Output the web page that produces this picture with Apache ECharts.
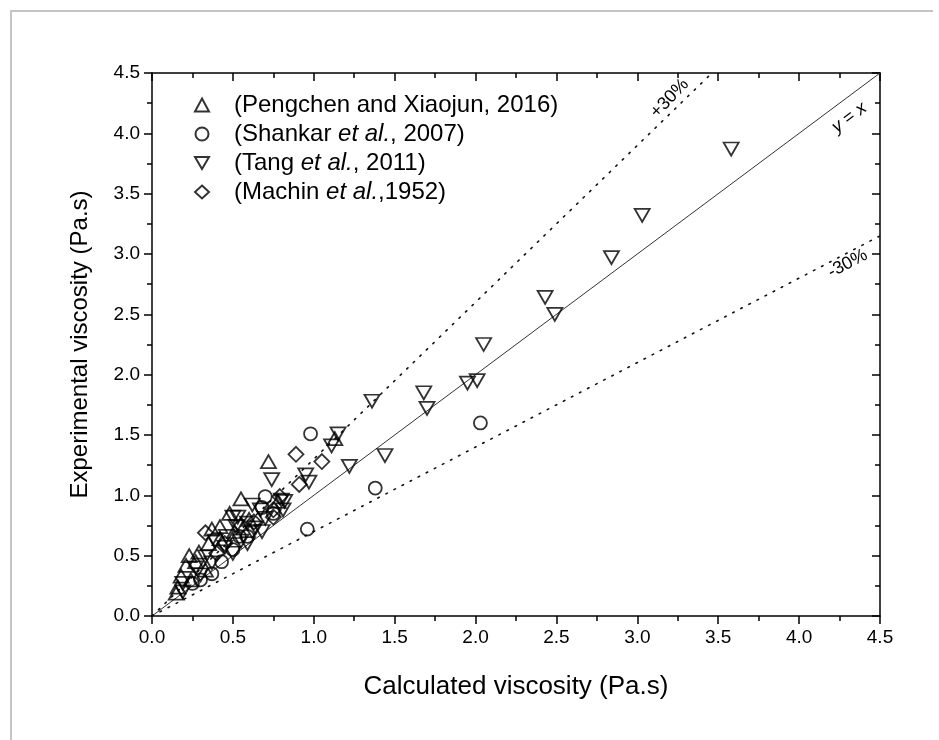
<!DOCTYPE html>
<html><head><meta charset="utf-8">
<script src="https://cdn.jsdelivr.net/npm/echarts@6/dist/echarts.min.js"></script>
<style>html,body{margin:0;padding:0;background:#fff}#c{width:939px;height:740px}</style>
</head><body><div id="c"></div>
<script>
// [calculated, experimental] pairs (Pa.s)
const pengchen = [[0.72,1.28],[1.13,1.47],[0.55,0.97],[0.48,0.85],[0.42,0.74],[0.37,0.72],[0.29,0.53],[0.23,0.50],[0.21,0.42],[0.18,0.33],[0.16,0.24],[0.15,0.19],[0.35,0.60],[0.27,0.45],[0.42,0.64],[0.60,0.80],[0.78,0.95],[0.33,0.38],[0.24,0.30],[0.51,0.70]];
const shankar = [[0.98,1.51],[2.03,1.60],[1.38,1.06],[0.96,0.72],[0.70,0.99],[0.68,0.90],[0.59,0.66],[0.54,0.66],[0.43,0.45],[0.37,0.35],[0.25,0.27],[0.75,0.85],[0.50,0.55],[0.30,0.30]];
const tang = [[3.58,3.87],[3.03,3.32],[2.84,2.97],[2.43,2.64],[2.49,2.50],[2.05,2.25],[1.95,1.93],[2.01,1.95],[1.68,1.85],[1.70,1.72],[1.36,1.78],[1.15,1.51],[1.11,1.41],[1.44,1.33],[1.22,1.24],[0.95,1.17],[0.97,1.11],[0.74,1.13],[0.82,0.95],[0.81,0.88],[0.80,0.96],[0.67,0.88],[0.62,0.92],[0.53,0.82],[0.50,0.82],[0.70,0.81],[0.59,0.77],[0.64,0.73],[0.68,0.70],[0.52,0.74],[0.46,0.66],[0.59,0.60],[0.39,0.62],[0.45,0.57],[0.50,0.52],[0.33,0.49],[0.37,0.44],[0.27,0.40],[0.30,0.34],[0.19,0.27],[0.19,0.20],[0.62,0.70],[0.55,0.62]];
const machin = [[0.89,1.34],[1.05,1.28],[0.91,1.09],[0.79,0.99],[0.75,0.88],[0.75,0.82],[0.63,0.78],[0.33,0.69],[0.45,0.60],[0.40,0.52],[0.55,0.75]];
const seriesNames = ['(Pengchen and Xiaojun, 2016)','(Shankar et al., 2007)','(Tang et al., 2011)','(Machin et al.,1952)'];
const lineYX = [[0,0],[4.5,4.5]];
const linePlus30 = [[0,0],[3.4615,4.5]];
const lineMinus30 = [[0,0],[4.5,3.15]];
const xTicks = {min:0, max:4.5, interval:0.5};
const yTicks = {min:0, max:4.5, interval:0.5};

const FONT = '"Liberation Sans", Arial, sans-serif';
const chart = echarts.init(document.getElementById('c'), null, {renderer:'canvas'});
const markerStyle = {color:'rgba(0,0,0,0)', borderColor:'#000', borderWidth:1.8};
const axisCommon = (pos, showLabel, inside) => ({
  type:'value', position:pos, min:xTicks.min, max:xTicks.max, interval:xTicks.interval,
  axisLine:{show:true, onZero:false, lineStyle:{color:'#000', width:1.5}},
  axisTick:{show:true, inside:inside, length:8, lineStyle:{color:'#000', width:1.5}},
  minorTick:{show:true, splitNumber:2, length:5, lineStyle:{color:'#000', width:1.5}},
  splitLine:{show:false},
  axisLabel:{show:showLabel, fontFamily:FONT, fontSize:19, color:'#000', margin:12, formatter:v=>v.toFixed(1)}
});
const xBottom = Object.assign(axisCommon('bottom', true, false), {name:'Calculated viscosity (Pa.s)', nameLocation:'middle', nameGap:58, nameTextStyle:{fontFamily:FONT, fontSize:26, color:'#000'}});
const xTop = axisCommon('top', false, true);
const yLeft = Object.assign(axisCommon('left', true, false), {min:yTicks.min, max:yTicks.max, interval:yTicks.interval, name:'Experimental viscosity (Pa.s)', nameLocation:'middle', nameGap:60, nameRotate:90, nameTextStyle:{fontFamily:FONT, fontSize:24, color:'#000'}});
const yRight = Object.assign(axisCommon('right', false, true), {min:yTicks.min, max:yTicks.max, interval:yTicks.interval});

function refLine(data, dotted, lbl) {
  return {
    type:'line', data:data, showSymbol:false, silent:true, xAxisIndex:0, yAxisIndex:0, z:1,
    lineStyle: dotted ? {color:'#111', width:1.6, type:[1.6,7.5], cap:'round'} : {color:'#333', width:1},
    markPoint:{symbol:'circle', symbolSize:0, silent:true, data:[{coord:lbl.coord}],
      label:{show:true, position:'inside', rotate:lbl.rotate, formatter:lbl.text, fontFamily:FONT, fontSize:18, color:'#000',
        rich:{i:{fontFamily:FONT, fontSize:18, fontStyle:'italic', color:'#000'}}}}
  };
}

const legendFormatter = name => name.replace('et al.', '{i|et al.}');
const richLegend = {i:{fontFamily:FONT, fontSize:24, fontStyle:'italic', color:'#000', lineHeight:24}};

chart.setOption({
  animation:false,
  backgroundColor:'#fff',
  grid:{left:152, right:59, top:73, bottom:124, containLabel:false},
  xAxis:[xBottom, xTop],
  yAxis:[yLeft, yRight],
  legend:{
    left:189, top:88, orient:'vertical', itemWidth:14, itemHeight:13, itemGap:5,
    data:seriesNames, formatter:legendFormatter,
    textStyle:{fontFamily:FONT, fontSize:24, color:'#000', padding:[0,0,0,20], lineHeight:24, rich:richLegend}
  },
  series:[
    refLine(lineYX, false, {coord:[4.31,4.13], rotate:37, text:'{i|y} = {i|x}'}),
    refLine(linePlus30, true, {coord:[3.20,4.29], rotate:46, text:'+30%'}),
    refLine(lineMinus30, true, {coord:[4.30,2.92], rotate:28, text:'-30%'}),
    {name:seriesNames[0], type:'scatter', data:pengchen, symbol:'triangle', symbolSize:[15,13], itemStyle:markerStyle, z:3},
    {name:seriesNames[1], type:'scatter', data:shankar, symbol:'circle', symbolSize:13, itemStyle:markerStyle, z:3},
    {name:seriesNames[2], type:'scatter', data:tang, symbol:'path://M0,0L10,0L5,8.66Z', symbolSize:[15,13], itemStyle:markerStyle, z:3},
    {name:seriesNames[3], type:'scatter', data:machin, symbol:'diamond', symbolSize:15, itemStyle:markerStyle, z:3}
  ],
  graphic:[
    {type:'polyline', shape:{points:[[11,740],[11,11],[933,11]]}, style:{stroke:'#c4c4c4', lineWidth:2, fill:null}, silent:true}
  ]
});
</script>
</body></html>
